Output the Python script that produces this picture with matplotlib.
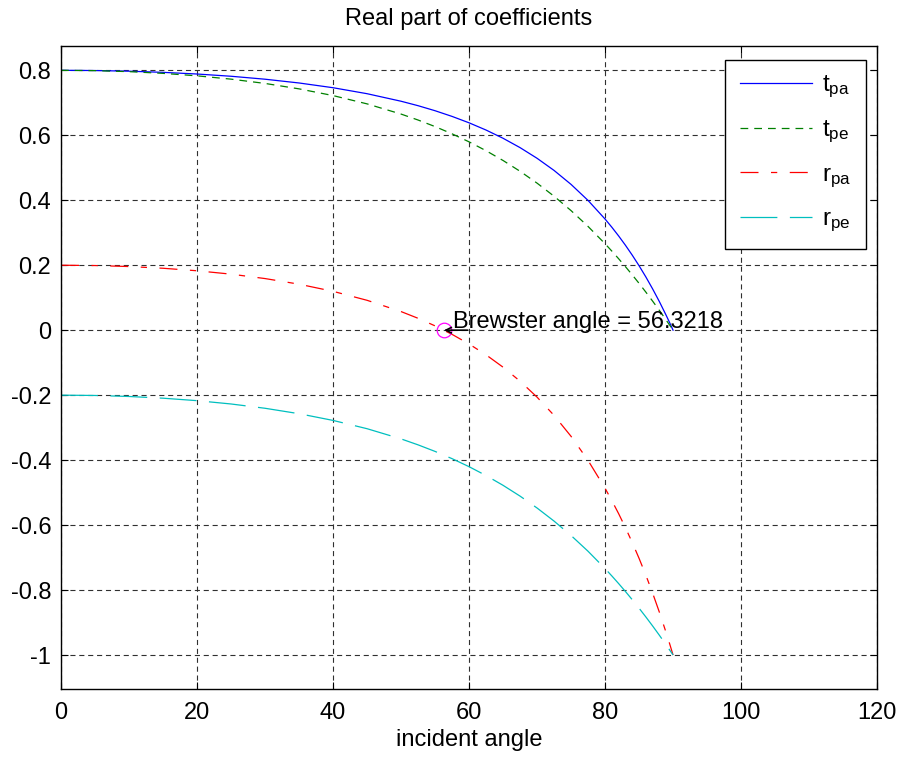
import matplotlib
matplotlib.use("Agg")
import matplotlib.pyplot as plt

plt.rcParams['font.family'] = ['Liberation Sans', 'DejaVu Sans']
plt.rcParams['mathtext.fontset'] = 'custom'
plt.rcParams['mathtext.rm'] = 'Liberation Sans'
plt.rcParams['mathtext.it'] = 'Liberation Sans'

# Incident angle (degrees) and real part of the Fresnel coefficients
angle = [0, 5, 10, 15, 20, 25, 30, 35, 40, 45, 50, 52.5, 55, 57.5, 60,
         62.5, 65, 67.5, 70, 72.5, 75, 77.5, 80, 81, 82, 83, 84, 85, 86,
         87, 88, 89, 89.5, 90]
t_pa = [0.8000, 0.7993, 0.7973, 0.7937, 0.7886, 0.7817, 0.7726, 0.7610,
        0.7464, 0.7280, 0.7048, 0.6911, 0.6756, 0.6581, 0.6384,
        0.6161, 0.5908, 0.5620, 0.5292, 0.4918, 0.4488, 0.3994, 0.3422,
        0.3169, 0.2900, 0.2614, 0.2309, 0.1985, 0.1639,
        0.1269, 0.0875, 0.0452, 0.0230, 0.0]
t_pe = [0.8000, 0.7990, 0.7959, 0.7906, 0.7830, 0.7728, 0.7596, 0.7429,
        0.7222, 0.6967, 0.6653, 0.6470, 0.6268, 0.6045, 0.5798,
        0.5525, 0.5224, 0.4892, 0.4527, 0.4124, 0.3681, 0.3194, 0.2661,
        0.2434, 0.2199, 0.1955, 0.1703, 0.1442, 0.1172,
        0.0893, 0.0605, 0.0307, 0.0155, 0.0]
r_pa = [0.2000, 0.1990, 0.1959, 0.1906, 0.1829, 0.1725, 0.1589, 0.1416,
        0.1196, 0.0920, 0.0573, 0.0366, 0.0133, -0.0129, -0.0425,
        -0.0759, -0.1139, -0.1570, -0.2061, -0.2623, -0.3268, -0.4009, -0.4866,
        -0.5247, -0.5650, -0.6080, -0.6537, -0.7023, -0.7542,
        -0.8096, -0.8688, -0.9322, -0.9655, -1.0]
r_pe = [-0.2000, -0.2010, -0.2041, -0.2094, -0.2170, -0.2272, -0.2404,
        -0.2571, -0.2778, -0.3033, -0.3347, -0.3530, -0.3732, -0.3955, -0.4202,
        -0.4475, -0.4776, -0.5108, -0.5474, -0.5877, -0.6320, -0.6806, -0.7339,
        -0.7566, -0.7801, -0.8045, -0.8297, -0.8558, -0.8828,
        -0.9107, -0.9395, -0.9693, -0.9845, -1.0]
brewster = 56.3218

x_ticks = [0, 20, 40, 60, 80, 100, 120]
y_ticks = [-1, -0.8, -0.6, -0.4, -0.2, 0, 0.2, 0.4, 0.6, 0.8]
y_tick_labels = ['-1', '-0.8', '-0.6', '-0.4', '-0.2', '0', '0.2', '0.4', '0.6', '0.8']

FS = 17

fig = plt.figure(figsize=(9.04, 7.58), dpi=100)
ax = fig.add_axes([0.0675, 0.0910, 0.9027, 0.8483])

lw = 0.9
ax.plot(angle, t_pa, color=(0, 0, 1), lw=lw, linestyle='-', label=r'$\mathrm{t_{pa}}$')
ax.plot(angle, t_pe, color=(0, 0.5, 0), lw=lw, linestyle=(0, (6.2, 4.8)),
        label=r'$\mathrm{t_{pe}}$')
ax.plot(angle, r_pa, color=(1, 0, 0), lw=lw, linestyle=(0, (14.4, 10, 5, 10)),
        label=r'$\mathrm{r_{pa}}$')
ax.plot(angle, r_pe, color=(0, 0.75, 0.75), lw=lw, linestyle=(0, (29.5, 10)),
        label=r'$\mathrm{r_{pe}}$')

# Brewster angle marker and annotation
ax.plot([brewster], [0], marker='o', markersize=10.5, markerfacecolor='none',
        markeredgecolor=(1, 0, 1), markeredgewidth=0.9, linestyle='none')
ax.annotate('', xy=(brewster, 0), xytext=(brewster + 3.5, 0),
            xycoords='data', textcoords='data',
            arrowprops=dict(arrowstyle='->', lw=1.2, color='black',
                            shrinkA=0, shrinkB=0, mutation_scale=10))
ax.annotate('Brewster angle = 56.3218', xy=(brewster, 0), xytext=(6.5, 1.5),
            textcoords='offset points', fontsize=FS, ha='left', va='baseline')

ax.set_xlim(0, 120)
ax.set_ylim(-1.1047, 0.8748)
ax.set_xticks(x_ticks)
ax.set_xticklabels([str(v) for v in x_ticks])
ax.set_yticks(y_ticks)
ax.set_yticklabels(y_tick_labels)

ax.grid(True, color='#303030', linestyle=(0, (4.6, 3.4)), linewidth=0.8)
ax.tick_params(direction='in', length=5, width=0.8, labelsize=FS,
               top=True, right=True, pad=7)
ax.tick_params(axis='x', pad=9)
for sp in ax.spines.values():
    sp.set_linewidth(1.0)
    sp.set_color('black')

ax.set_title('Real part of coefficients', fontsize=FS, pad=15)
ax.set_xlabel('incident angle', fontsize=FS, labelpad=4)

leg = ax.legend(loc='upper right', bbox_to_anchor=(0.9865, 0.979),
                borderaxespad=0, fontsize=17.5, handlelength=3.0,
                handletextpad=0.4, labelspacing=0.76, borderpad=0.6,
                fancybox=False, framealpha=1, edgecolor='black')
leg.get_frame().set_linewidth(1.0)

fig.savefig('out.png', dpi=100)
